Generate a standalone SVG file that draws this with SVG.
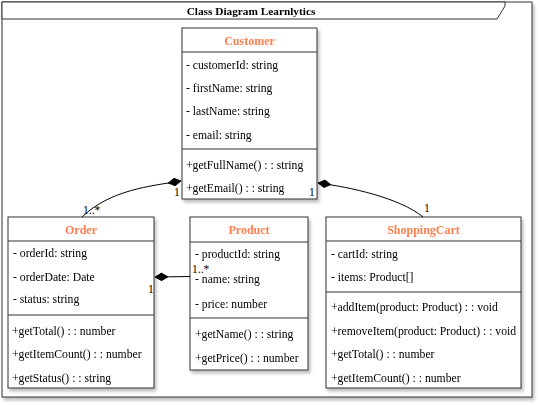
<svg xmlns="http://www.w3.org/2000/svg" width="540" height="405" viewBox="0 0 540 405">
<defs>
<filter id="sh" x="-10%" y="-10%" width="130%" height="130%">
<feDropShadow dx="2" dy="3" stdDeviation="1.6" flood-color="#000" flood-opacity="0.25"/>
</filter>
<marker id="dia" markerWidth="14" markerHeight="10" viewBox="0 0 14 10" refX="0.5" refY="5" orient="auto" markerUnits="userSpaceOnUse">
<path d="M0.5,5 L7,1.2 L13.5,5 L7,8.8 Z" fill="#000" stroke="#000" stroke-width="0.8"/>
</marker>
</defs>
<style>
text{font-family:"Liberation Serif","Times New Roman",serif;font-size:11.7px;fill:#000}
.hd{font-weight:bold;font-size:12px;fill:#FF7F50;text-anchor:middle}
.box{fill:#fff;stroke:#333;stroke-width:1}
.sep{stroke:#333;stroke-width:1;fill:none}
.con{fill:none;stroke:#000;stroke-width:1}
.ttl{font-weight:bold;font-size:11.3px;text-anchor:middle}
.lbl{font-size:11.5px}
</style>
<rect width="540" height="405" fill="#fff"/>
<g id="frame" filter="url(#sh)">
<rect x="2" y="2" width="530" height="395" fill="#fff" stroke="#333"/>
<path d="M2,2 H505 V6 L497,19 H2 Z" fill="#fff" stroke="#333"/>
<text class="ttl" x="251" y="15">Class Diagram Learnlytics</text>
</g>
<g id="customer" filter="url(#sh)">
<rect class="box" x="182" y="28" width="135" height="171"/>
<line class="sep" x1="182" y1="52" x2="317" y2="52"/>
<line class="sep" x1="182" y1="149" x2="317" y2="149"/>
<text class="hd" x="249.5" y="45">Customer</text>
<text x="186" y="69">- customerId: string</text>
<text x="186" y="92">- firstName: string</text>
<text x="186" y="115">- lastName: string</text>
<text x="186" y="139">- email: string</text>
<text x="186" y="169">+getFullName() : : string</text>
<text x="186" y="192">+getEmail() : : string</text>
</g>
<g id="order" filter="url(#sh)">
<rect class="box" x="8" y="217" width="146" height="171"/>
<line class="sep" x1="8" y1="241" x2="154" y2="241"/>
<line class="sep" x1="8" y1="315" x2="154" y2="315"/>
<text class="hd" x="81" y="234">Order</text>
<text x="13" y="257">- orderId: string</text>
<text x="13" y="281">- orderDate: Date</text>
<text x="13" y="303">- status: string</text>
<text x="12" y="335">+getTotal() : : number</text>
<text x="12" y="358">+getItemCount() : : number</text>
<text x="12" y="382">+getStatus() : : string</text>
</g>
<g id="product" filter="url(#sh)">
<rect class="box" x="190" y="217" width="118" height="153"/>
<line class="sep" x1="190" y1="242" x2="308" y2="242"/>
<line class="sep" x1="190" y1="318" x2="308" y2="318"/>
<text class="hd" x="249" y="234">Product</text>
<text x="195" y="258">- productId: string</text>
<text x="195" y="283">- name: string</text>
<text x="195" y="308">- price: number</text>
<text x="195" y="338">+getName() : : string</text>
<text x="195" y="362">+getPrice() : : number</text>
</g>
<g id="shoppingcart" filter="url(#sh)">
<rect class="box" x="326" y="217" width="195" height="171"/>
<line class="sep" x1="326" y1="241" x2="521" y2="241"/>
<line class="sep" x1="326" y1="292" x2="521" y2="292"/>
<text class="hd" x="423.5" y="234">ShoppingCart</text>
<text x="331" y="258">- cartId: string</text>
<text x="331" y="281">- items: Product[]</text>
<text x="331" y="311">+addItem(product: Product) : : void</text>
<text x="331" y="335">+removeItem(product: Product) : : void</text>
<text x="331" y="358">+getTotal() : : number</text>
<text x="331" y="382">+getItemCount() : : number</text>
</g>
<g id="connectors">
<path class="con" marker-start="url(#dia)" d="M181,181 C150,186 110,190 82,217"/>
<path class="con" marker-start="url(#dia)" d="M318,183 C350,187 400,198 423,217"/>
<path class="con" marker-start="url(#dia)" d="M155,277 L190,276.5"/>
<text class="lbl" x="174" y="196">1</text>
<text class="lbl" x="83" y="214">1..*</text>
<text class="lbl" x="309" y="196">1</text>
<text class="lbl" x="424" y="212">1</text>
<text class="lbl" x="148" y="293">1</text>
<text class="lbl" x="192" y="273">1..*</text>
</g>
</svg>
